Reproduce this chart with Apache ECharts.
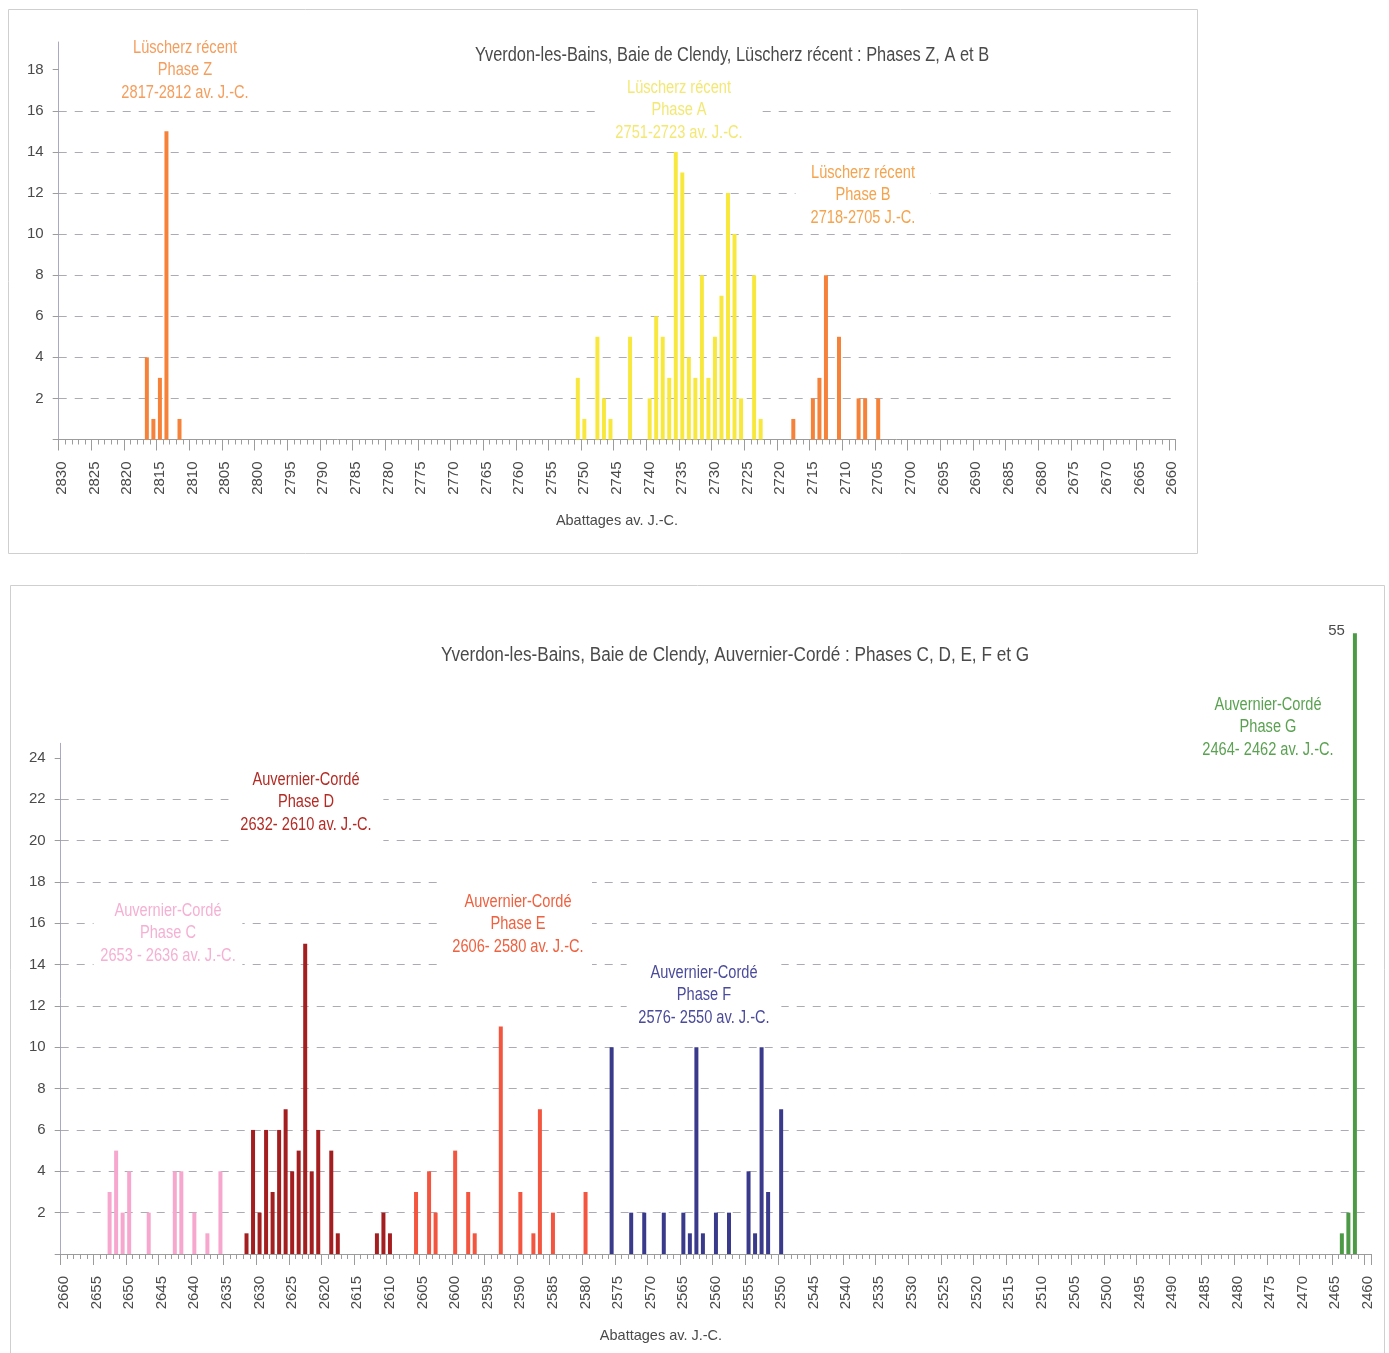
<!DOCTYPE html>
<html>
<head>
<meta charset="utf-8">
<script src="https://cdn.jsdelivr.net/npm/echarts@6/dist/echarts.min.js"></script>
<style>
  html, body { margin: 0; padding: 0; background: #ffffff; }
  #chart { width: 1389px; height: 1353px; }
</style>
</head>
<body>
<div id="chart"></div>
<script>
// ---- Felling-year ranges shown on the two x axes (years BC, oldest first) ----
const TOP_FIRST_YEAR = 2830, TOP_LAST_YEAR = 2660;
const BOTTOM_FIRST_YEAR = 2660, BOTTOM_LAST_YEAR = 2460;

// ---- Lüscherz récent : number of felled trees per year ----
const phaseZYears  = [2817, 2816, 2815, 2814, 2812];
const phaseZCounts = [4, 1, 3, 15, 1];
const phaseAYears  = [2751, 2750, 2748, 2747, 2746, 2743, 2740, 2739, 2738, 2737, 2736, 2735,
                      2734, 2733, 2732, 2731, 2730, 2729, 2728, 2727, 2726, 2724, 2723];
const phaseACounts = [3, 1, 5, 2, 1, 5, 2, 6, 5, 3, 14, 13, 4, 3, 8, 3, 5, 7, 12, 10, 2, 8, 1];
const phaseBYears  = [2718, 2715, 2714, 2713, 2711, 2708, 2707, 2705];
const phaseBCounts = [1, 2, 3, 8, 5, 2, 2, 2];

// ---- Auvernier-Cordé : number of felled trees per year ----
const phaseCYears  = [2653, 2652, 2651, 2650, 2647, 2643, 2642, 2640, 2638, 2636];
const phaseCCounts = [3, 5, 2, 4, 2, 4, 4, 2, 1, 4];
const phaseDYears  = [2632, 2631, 2630, 2629, 2628, 2627, 2626, 2625, 2624, 2623, 2622, 2621,
                      2619, 2618, 2612, 2611, 2610];
const phaseDCounts = [1, 6, 2, 6, 3, 6, 7, 4, 5, 15, 4, 6, 5, 1, 1, 2, 1];
const phaseEYears  = [2606, 2604, 2603, 2600, 2598, 2597, 2593, 2590, 2588, 2587, 2585, 2580];
const phaseECounts = [3, 4, 2, 5, 3, 1, 11, 3, 1, 7, 2, 3];
const phaseFYears  = [2576, 2573, 2571, 2568, 2565, 2564, 2563, 2562, 2560, 2558, 2555, 2554,
                      2553, 2552, 2550];
const phaseFCounts = [10, 2, 2, 2, 2, 1, 10, 1, 2, 2, 4, 1, 10, 3, 7];
const phaseGYears  = [2464, 2463, 2462];
const phaseGCounts = [1, 2, 55];

// ---- Value-axis tick labels ----
const topYTicks    = [2, 4, 6, 8, 10, 12, 14, 16, 18];
const bottomYTicks = [2, 4, 6, 8, 10, 12, 14, 16, 18, 20, 22, 24];

// ---- Texts ----
const topTitle    = 'Yverdon-les-Bains, Baie de Clendy, Lüscherz récent : Phases Z, A et B';
const bottomTitle = 'Yverdon-les-Bains, Baie de Clendy, Auvernier-Cordé : Phases C, D, E, F et G';
const xAxisTitle  = 'Abattages av. J.-C.';
const labelZ = ['Lüscherz récent', 'Phase Z', '2817-2812 av. J.-C.'];
const labelA = ['Lüscherz récent', 'Phase A', '2751-2723 av. J.-C.'];
const labelB = ['Lüscherz récent', 'Phase B', '2718-2705 J.-C.'];
const labelC = ['Auvernier-Cordé', 'Phase C', '2653 - 2636 av. J.-C.'];
const labelD = ['Auvernier-Cordé', 'Phase D', '2632- 2610 av. J.-C.'];
const labelE = ['Auvernier-Cordé', 'Phase E', '2606- 2580 av. J.-C.'];
const labelF = ['Auvernier-Cordé', 'Phase F', '2576- 2550 av. J.-C.'];
const labelG = ['Auvernier-Cordé', 'Phase G', '2464- 2462 av. J.-C.'];

// ---- Styling / layout ----
const FONT = '"Liberation Sans", Arial, sans-serif';
const TEXT_GREY = '#4A4A4A';
const AXIS_GREY = '#9C9C9C';
const Y_AXIS_COLOR = '#A9A9C2';
const GRID_COLOR = '#ABABB4';
const CONDENSE = 0.835;       // narrow typeface look for titles and phase labels
const TOP_Y_MAX = 19.35;      // value axis runs a little above the last labelled tick
const BOTTOM_Y_MAX = 24.7;
const OVERFLOW_Y_MAX = 45.25; // extended scale for the single bar that exceeds the axis

function yearRange(first, last) {
  const out = [];
  for (let y = first; y >= last; y--) out.push(String(y));
  return out;
}
const topYears = yearRange(TOP_FIRST_YEAR, TOP_LAST_YEAR);
const bottomYears = yearRange(BOTTOM_FIRST_YEAR, BOTTOM_LAST_YEAR);

function pairs(years, counts, keep) {
  const out = [];
  years.forEach((y, i) => { if (!keep || keep(counts[i])) out.push([String(y), counts[i]]); });
  return out;
}

function barSeries(name, data, color, xi, yi, extra) {
  return Object.assign({
    name: name, type: 'bar', data: data,
    xAxisIndex: xi, yAxisIndex: yi,
    barWidth: 4, barGap: '-100%',
    itemStyle: { color: color },
    emphasis: { disabled: true },
    animation: false, z: 5
  }, extra || {});
}

// gridlines: every labelled value except the topmost one
function gridColors(ticks) {
  return ticks.map((t, i) => i === ticks.length - 1 ? 'rgba(0,0,0,0)' : GRID_COLOR);
}

function categoryAxes(gridIndex, years, namePadding) {
  return [
    { // axis line with one short tick per year
      gridIndex: gridIndex, type: 'category', data: years, position: 'bottom',
      boundaryGap: true,
      axisLine: { show: true, lineStyle: { color: AXIS_GREY, width: 1 } },
      axisTick: { show: true, interval: 0, length: 5, lineStyle: { color: AXIS_GREY } },
      axisLabel: { show: false },
      splitLine: { show: false }
    },
    { // long ticks and labels every five years
      gridIndex: gridIndex, type: 'category', data: years, position: 'bottom',
      boundaryGap: true,
      axisLine: { show: false },
      axisTick: { show: true, interval: 4, length: 11, lineStyle: { color: AXIS_GREY } },
      axisLabel: { interval: 4, rotate: 90, margin: 22, fontSize: 15, color: TEXT_GREY, fontFamily: FONT },
      splitLine: { show: false },
      name: xAxisTitle, nameLocation: 'middle', nameGap: 74,
      nameTextStyle: { fontSize: 14.5, color: TEXT_GREY, fontFamily: FONT, padding: namePadding }
    }
  ];
}

function valueAxis(gridIndex, max, ticks) {
  return {
    gridIndex: gridIndex, type: 'value', position: 'left',
    min: 0, max: max, interval: 2,
    axisLine: { show: true, lineStyle: { color: Y_AXIS_COLOR, width: 1 } },
    axisTick: { show: true, length: 6, customValues: [0].concat(ticks), lineStyle: { color: AXIS_GREY } },
    axisLabel: { customValues: ticks, margin: 15, fontSize: 15, color: TEXT_GREY, fontFamily: FONT },
    splitLine: {
      show: true, showMinLine: false, showMaxLine: false,
      lineStyle: { type: [8, 8], width: 1, color: gridColors(ticks) }
    }
  };
}

function condensedText(text, cx, cy, color, fontSize, extraStyle, scaleX) {
  return {
    type: 'text', x: cx, y: cy, z: 1, silent: true, scaleX: scaleX || CONDENSE,
    style: Object.assign({
      text: text, align: 'center', verticalAlign: 'middle',
      fill: color, fontFamily: FONT, fontSize: fontSize
    }, extraStyle || {})
  };
}

function phaseLabel(lines, cx, cy, color, padding) {
  return condensedText(lines.join('\n'), cx, cy, color, 17.5, {
    lineHeight: 22.5, backgroundColor: '#ffffff', padding: padding || [7, 14]
  });
}

const overflowG = pairs(phaseGYears, phaseGCounts, v => v > BOTTOM_Y_MAX);

const option = {
  backgroundColor: '#ffffff',
  animation: false,
  grid: [
    { left: 58.7, top: 42, width: 1116.6, height: 397.5 },
    { left: 60.7, top: 743.3, width: 1310.5, height: 510.7 }
  ],
  xAxis: categoryAxes(0, topYears, 0).concat(categoryAxes(1, bottomYears, [0, 110, 0, 0])),
  yAxis: [
    valueAxis(0, TOP_Y_MAX, topYTicks),
    valueAxis(1, BOTTOM_Y_MAX, bottomYTicks),
    { gridIndex: 1, type: 'value', position: 'left', min: 0, max: OVERFLOW_Y_MAX, show: false,
      splitLine: { show: false } }
  ],
  series: [
    barSeries('Phase Z', pairs(phaseZYears, phaseZCounts), '#F6823A', 0, 0),
    barSeries('Phase A', pairs(phaseAYears, phaseACounts), '#F8E83E', 0, 0),
    barSeries('Phase B', pairs(phaseBYears, phaseBCounts), '#F6823A', 0, 0),
    barSeries('Phase C', pairs(phaseCYears, phaseCCounts), '#F7A7CE', 2, 1),
    barSeries('Phase D', pairs(phaseDYears, phaseDCounts), '#A41E1F', 2, 1),
    barSeries('Phase E', pairs(phaseEYears, phaseECounts), '#F4553F', 2, 1),
    barSeries('Phase F', pairs(phaseFYears, phaseFCounts), '#3A3A8C', 2, 1),
    barSeries('Phase G', pairs(phaseGYears, phaseGCounts, v => v <= BOTTOM_Y_MAX), '#4C9A46', 2, 1),
    barSeries('Phase G (hors échelle)', overflowG, '#4C9A46', 2, 2, {
      clip: false,
      label: {
        show: true, position: [-8, -2], align: 'right', verticalAlign: 'middle',
        formatter: p => String(p.value[1]),
        fontSize: 15, color: TEXT_GREY, fontFamily: FONT
      }
    })
  ],
  graphic: [
    { type: 'rect', z: 0, silent: true, shape: { x: 8.5, y: 9.5, width: 1189, height: 544 },
      style: { fill: 'none', stroke: '#CFCFCF', lineWidth: 1 } },
    { type: 'rect', z: 0, silent: true, shape: { x: 10.5, y: 585.5, width: 1374, height: 800 },
      style: { fill: 'none', stroke: '#CFCFCF', lineWidth: 1 } },
    condensedText(topTitle, 732, 55.5, TEXT_GREY, 19.5, null, 0.84),
    condensedText(bottomTitle, 735, 655.5, TEXT_GREY, 19.5, null, 0.88),
    phaseLabel(labelZ, 185, 70.5, '#F49E5E', [0, 14]),
    phaseLabel(labelA, 679, 110.5, '#F3E874', [7, 18]),
    phaseLabel(labelB, 863, 195.5, '#F4A44E', [4, 18]),
    phaseLabel(labelC, 168, 933.5, '#F5B0D3', [6, 8]),
    phaseLabel(labelD, 306, 802.5, '#B32B24', [10, 14]),
    phaseLabel(labelE, 518, 924.5, '#EF613F', [11, 10]),
    phaseLabel(labelF, 704, 995.5, '#4B4B9B', [8, 14]),
    phaseLabel(labelG, 1268, 727.5, '#5AA251')
  ]
};

const chart = echarts.init(document.getElementById('chart'), null, { renderer: 'canvas' });
chart.setOption(option);
</script>
</body>
</html>
